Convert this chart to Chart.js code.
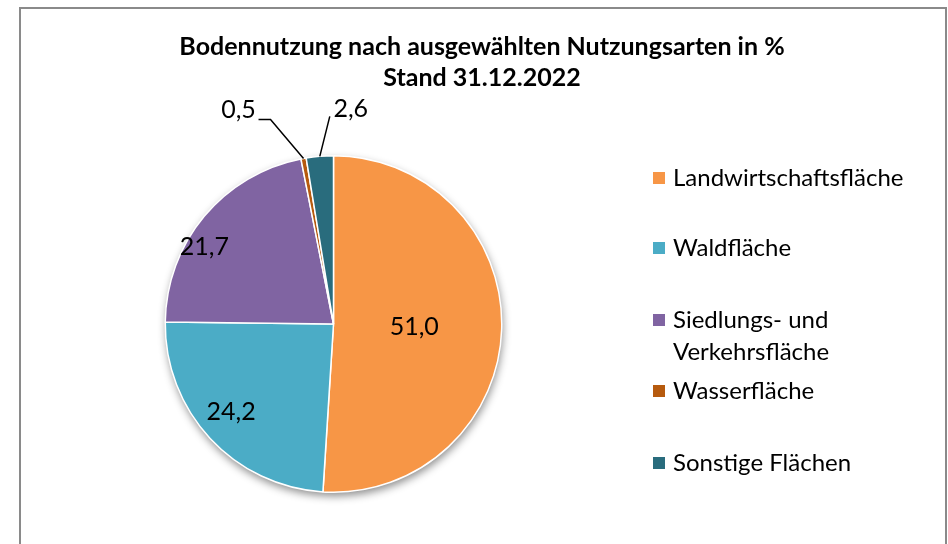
<!DOCTYPE html>
<html>
<head>
<meta charset="utf-8">
<script src="https://cdn.jsdelivr.net/npm/chart.js@4/dist/chart.umd.min.js"></script>
<style>
  body { margin: 0; background: #fff; }
  canvas { display: block; }
</style>
</head>
<body>
<canvas id="pieChart" width="948" height="544"></canvas>
<script>
const titleLines = ['Bodennutzung nach ausgewählten Nutzungsarten in %', 'Stand 31.12.2022']
const categories = ['Landwirtschaftsfläche', 'Waldfläche', 'Siedlungs- und Verkehrsfläche', 'Wasserfläche', 'Sonstige Flächen']
const shares = [51.0, 24.2, 21.7, 0.5, 2.6]
const colors = ['#F79646', '#4BACC6', '#8064A2', '#B65A0E', '#296C7D']

const FONT = 'Lato, "Open Sans", sans-serif'

// where the labels sit: inside slices as a share of the radius (plus a nudge),
// small slices outside with a leader line
const labelRadius = [0.48, 0.79, 0.89, null, null]
const labelNudge = [[0, 0], [-5, -2], [-14, 19], [0, 0], [0, 0]]
const outsideLabel = {
  3: { text: [-65, -49], bend: [-33, -39], end: [-45, -39] },
  4: { text: [31, -47], bend: [10, -40], end: [10, -40] }
}
const legendRows = [178, 248, 320, 391, 463]

const fmt = v => v.toFixed(1).replace('.', ',')

const framePlugin = {
  id: 'frame',
  beforeDraw(chart) {
    const ctx = chart.ctx
    ctx.save()
    ctx.strokeStyle = '#8a8a8a'
    ctx.lineWidth = 2
    ctx.strokeRect(20, 8, 926, 600)
    ctx.fillStyle = '#000'
    ctx.textAlign = 'center'
    ctx.textBaseline = 'middle'
    ctx.font = 'bold 25px ' + FONT
    ctx.fillText(titleLines[0], 482, 47)
    ctx.fillText(titleLines[1], 482, 78)
    ctx.restore()
  },
  beforeDatasetsDraw(chart) {
    // soft shadow under the whole pie
    const arc = chart.getDatasetMeta(0).data[0]
    const { x, y, outerRadius } = arc.getProps(['x', 'y', 'outerRadius'], true)
    const ctx = chart.ctx
    ctx.save()
    ctx.shadowColor = 'rgba(0,0,0,0.45)'
    ctx.shadowBlur = 9
    ctx.shadowOffsetX = 1
    ctx.shadowOffsetY = 4
    ctx.fillStyle = '#fff'
    ctx.beginPath()
    ctx.arc(x, y, outerRadius, 0, Math.PI * 2)
    ctx.fill()
    ctx.restore()
  },
  afterDatasetsDraw(chart) {
    const ctx = chart.ctx
    const meta = chart.getDatasetMeta(0)
    ctx.save()
    ctx.font = '25px ' + FONT
    ctx.fillStyle = '#000'
    ctx.textAlign = 'center'
    ctx.textBaseline = 'middle'
    meta.data.forEach((arc, i) => {
      const p = arc.getProps(['x', 'y', 'startAngle', 'endAngle', 'outerRadius'], true)
      const mid = (p.startAngle + p.endAngle) / 2
      const txt = fmt(shares[i])
      if (labelRadius[i] !== null) {
        const r = p.outerRadius * labelRadius[i]
        ctx.fillText(txt, p.x + Math.cos(mid) * r + labelNudge[i][0], p.y + Math.sin(mid) * r + labelNudge[i][1])
      } else {
        const ex = p.x + Math.cos(mid) * p.outerRadius
        const ey = p.y + Math.sin(mid) * p.outerRadius
        const o = outsideLabel[i]
        ctx.strokeStyle = '#000'
        ctx.lineWidth = 1.5
        ctx.beginPath()
        ctx.moveTo(ex, ey)
        ctx.lineTo(ex + o.bend[0], ey + o.bend[1])
        ctx.lineTo(ex + o.end[0], ey + o.end[1])
        ctx.stroke()
        ctx.fillText(txt, ex + o.text[0], ey + o.text[1])
      }
    })

    // legend
    ctx.textAlign = 'left'
    ctx.font = '24px ' + FONT
    categories.forEach((name, i) => {
      const y = legendRows[i]
      ctx.fillStyle = colors[i]
      ctx.fillRect(653, y - 6, 12, 12)
      ctx.fillStyle = '#000'
      const words = name.split(' ')
      let line = ''
      let ly = y
      words.forEach(w => {
        const test = line ? line + ' ' + w : w
        if (line && ctx.measureText(test).width > 250) {
          ctx.fillText(line, 673, ly)
          line = w
          ly += 32
        } else {
          line = test
        }
      })
      ctx.fillText(line, 673, ly)
    })
    ctx.restore()
  }
}

new Chart(document.getElementById('pieChart'), {
  type: 'pie',
  data: {
    labels: categories,
    datasets: [{
      data: shares,
      backgroundColor: colors,
      borderColor: '#fff',
      borderWidth: 1.5
    }]
  },
  options: {
    responsive: false,
    animation: false,
    layout: { padding: { left: 164, right: 445, top: 155, bottom: 51 } },
    plugins: {
      legend: { display: false },
      title: { display: false },
      tooltip: { enabled: false }
    }
  },
  plugins: [framePlugin]
})
</script>
</body>
</html>
